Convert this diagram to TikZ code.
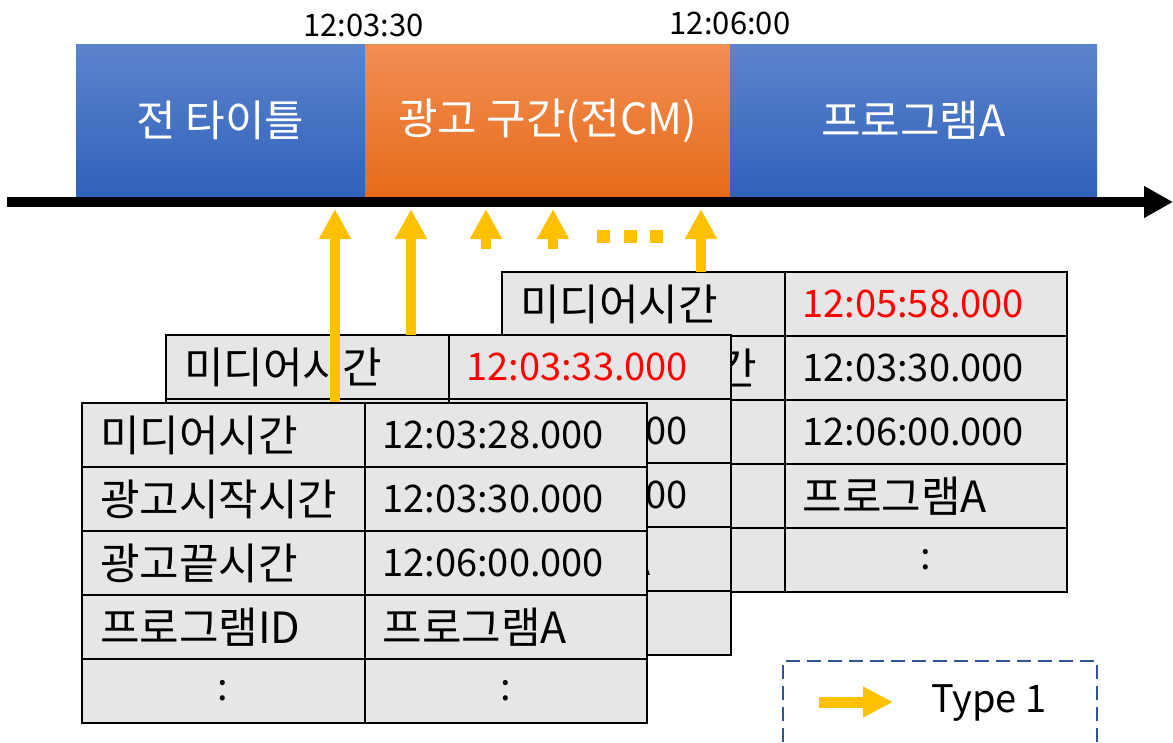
\documentclass[tikz,border=0pt]{standalone}
\usepackage{fontspec}
\setmainfont{Noto Sans CJK KR}
\usetikzlibrary{arrows.meta}
\definecolor{yel}{HTML}{FFC000}
\definecolor{cellgray}{HTML}{E6E6E6}
\definecolor{blueT}{HTML}{5E83CD}
\definecolor{blueB}{HTML}{2F62BA}
\definecolor{oraT}{HTML}{F28E55}
\definecolor{oraB}{HTML}{E66B19}
\definecolor{legblue}{HTML}{2F5597}
\definecolor{redtxt}{HTML}{FF0000}
\newcommand\krsize{\fontsize{43}{48}\selectfont}
\newcommand\numsize{\fontsize{38}{44}\selectfont}
\newcommand\barsize{\fontsize{43}{48}\selectfont}
\newcommand\tssize{\fontsize{31}{36}\selectfont}
\tikzset{
  cellbase/.style={draw=black, line width=2pt, fill=cellgray, minimum height=64pt,
    inner xsep=18pt, inner ysep=0pt, anchor=north west, outer sep=0pt, text width=246.5pt},
  kcell/.style={cellbase, align=left, font=\krsize},
  ncell/.style={cellbase, align=left, font=\numsize},
  dcell/.style={cellbase, align=center, font=\numsize},
  tbar/.style={anchor=north west, minimum height=153pt, inner sep=0pt, outer sep=0pt,
    text=white, font=\barsize},
  yarrow/.style={draw=yel, line width=10pt, -{Triangle[length=30pt,width=30pt]}},
  tstamp/.style={font=\tssize, inner sep=0pt},
}
\newcommand\drawtable[5]{%
  \node[kcell] (#1a1) at (#2,#3) {미디어시간};
  \node[ncell, text=#5] (#1b1) at (#2+282.5,#3) {#4};
  \node[kcell] (#1a2) at (#2,#3+64) {광고시작시간};
  \node[ncell] (#1b2) at (#2+282.5,#3+64) {12:03:30.000};
  \node[kcell] (#1a3) at (#2,#3+128) {광고끝시간};
  \node[ncell] (#1b3) at (#2+282.5,#3+128) {12:06:00.000};
  \node[kcell] (#1a4) at (#2,#3+192) {프로그램ID};
  \node[kcell] (#1b4) at (#2+282.5,#3+192) {프로그램A};
  \node[dcell] (#1a5) at (#2,#3+256) {:};
  \node[dcell] (#1b5) at (#2+282.5,#3+256) {:};
}
\begin{document}
\begin{tikzpicture}[x=1pt, y=-1pt]
\useasboundingbox (0,0) rectangle (1173,742);
% top bars
\node[tbar, minimum width=289pt, top color=blueT, bottom color=blueB] (bar1) at (76,44) {전 타이틀};
\node[tbar, minimum width=365pt, top color=oraT, bottom color=oraB] (bar2) at (365,44) {광고 구간(전CM)};
\node[tbar, minimum width=367pt, top color=blueT, bottom color=blueB] (bar3) at (730,44) {프로그램A};
% timestamps
\node[tstamp] (ts1) at (363.5,25) {12:03:30};
\node[tstamp] (ts2) at (730,23) {12:06:00};
% timeline
\coordinate (tl0) at (7,202);
\coordinate (tl1) at (1173,202);
\draw[line width=10pt, -{Triangle[length=29pt,width=30pt]}] (tl0) -- (tl1);
% arrow targets on timeline
\coordinate (t1) at (335,209);
\coordinate (t2) at (411,209);
\coordinate (t3) at (486,209);
\coordinate (t4) at (553,209);
\coordinate (t6) at (701,209);
\coordinate (s3) at (486,249);
\coordinate (s4) at (553,249);
% tables
\drawtable{k}{502}{272}{12:05:58.000}{redtxt}
\draw[yarrow] (t6 |- ka1.north) -- (t6);
\drawtable{m}{166}{335}{12:03:33.000}{redtxt}
\draw[yarrow] (t2 |- ma1.north) -- (t2);
\coordinate (fTop) at (82,403);
\draw[yarrow] (t1 |- fTop) -- (t1);
\drawtable{f}{82}{403}{12:03:28.000}{black}
% small arrows
\draw[yarrow] (s3) -- (t3);
\draw[yarrow] (s4) -- (t4);
% dots
\fill[yel] (597,230) rectangle (610,243);
\fill[yel] (624,230) rectangle (637,243);
\fill[yel] (650,230) rectangle (663,243);
% legend
\draw[legblue, line width=2pt, dash pattern=on 14pt off 7pt] (783,742) -- (783,661) -- (1097,661) -- (1097,742);
\coordinate (la0) at (819,702);
\coordinate (la1) at (893,702);
\draw[draw=yel, line width=11pt, -{Triangle[length=30pt,width=29pt]}] (la0) -- (la1);
\node[anchor=west, font=\fontsize{38}{43}\selectfont, inner sep=0pt] (legtxt) at (931,703) {Type 1};
\end{tikzpicture}
\end{document}
